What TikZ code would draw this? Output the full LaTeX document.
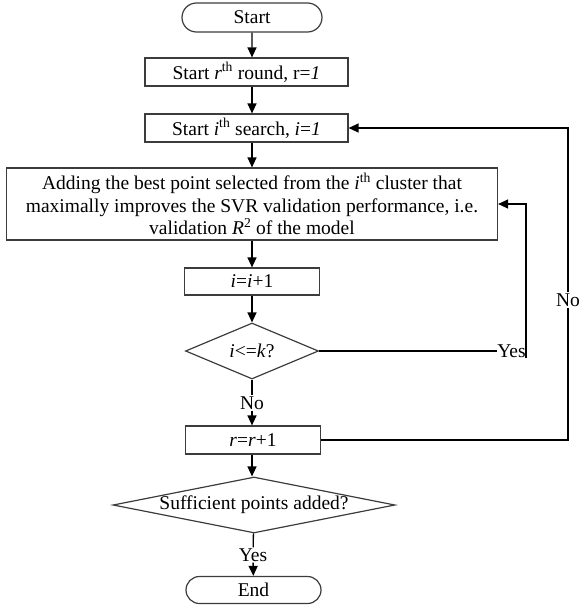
\documentclass[tikz,border=0pt]{standalone}
\usepackage{fontspec}
\setmainfont{Liberation Serif}
\usepackage{xcolor}
\definecolor{dgray}{RGB}{60,60,60}
\usetikzlibrary{positioning, calc, shapes.geometric, shapes.misc, arrows.meta}
\tikzstyle{Box} = [
draw=dgray,
line width=1.2pt,
rectangle,
inner sep=0pt,
minimum height=28pt]
\tikzstyle{Terminal} = [
draw=dgray,
line width=1.2pt,
rounded rectangle,
inner sep=0pt,
minimum width=137pt,
minimum height=28pt]
\tikzstyle{Decision} = [
draw=dgray,
line width=1.2pt,
diamond,
inner sep=0pt]
\tikzstyle{Arrow} = [
line width=1.3pt,
-{Triangle[length=10pt, width=9pt]}]
\tikzstyle{Line} = [
line width=1.3pt]
\tikzstyle{Label} = [
fill=white,
inner sep=1pt]

\begin{document}
\begin{tikzpicture}[x=1pt, y=-1pt, font=\fontsize{19.5pt}{22.5pt}\selectfont]
    \useasboundingbox (0,0) rectangle (579,608);
    \node [Terminal, minimum width=140pt, minimum height=29pt] (1) at (252,17.5) {Start};
    \node [Box, minimum width=203pt] (2) at (246.5,72) {Start \textit{r}\textsuperscript{th} round, r=\textit{1}};
    \node [Box, minimum width=203pt] (3) at (246.5,128) {Start \textit{i}\textsuperscript{th} search, \textit{i}=\textit{1}};
    \node [Box, minimum width=491pt, minimum height=72pt, align=center] (4) at (252,204)
        {Adding the best point selected from the \textit{i}\textsuperscript{th} cluster that\\
         maximally improves the SVR validation performance, i.e.\\
         validation \textit{R}\textsuperscript{2} of the model};
    \node [Box, minimum width=135pt, minimum height=27pt] (5) at (252,281.5) {\textit{i}=\textit{i}+1};
    \node [Decision, minimum width=133pt, minimum height=56pt, aspect=2.4] (6) at (252,351) {\textit{i}<=\textit{k}?};
    \node [Box, minimum width=135pt] (7) at (253,440) {\textit{r}=\textit{r}+1};
    \node [Decision, minimum width=282pt, minimum height=56pt, aspect=5] (8) at (254,505) {Sufficient points added?};
    \node [Terminal, minimum width=135pt, minimum height=27pt] (9) at (253.5,590) {End};

    \node [Label] (10) at (252,403) {No};
    \node [Label] (11) at (253,555) {Yes};
    \node [right=178pt of 6, inner sep=0pt] (12) {Yes};
    \node [Label] (13) at (568,300) {No};

    \draw[Arrow] (1) -- (1 |- 2.north);
    \draw[Arrow] (1 |- 2.south) -- (1 |- 3.north);
    \draw[Arrow] (1 |- 3.south) -- (4);
    \draw[Arrow] (4) -- (5);
    \draw[Arrow] (5) -- (6);
    \draw[Line] (6) -- (10);
    \draw[Arrow] (10) -- (10 |- 7.north);
    \draw[Arrow] (10 |- 7.south) -- (10 |- 8.north);
    \draw[Line] (8) -- (11);
    \draw[Arrow] (11) -- (9);
    \draw[Line] (6.east) -- (12.west);
    \draw[Arrow] (12.south east) |- (4.east);
    \draw[Line] (7.east) -| (13.south);
    \draw[Arrow] (13.north) |- (3.east);
\end{tikzpicture}
\end{document}
